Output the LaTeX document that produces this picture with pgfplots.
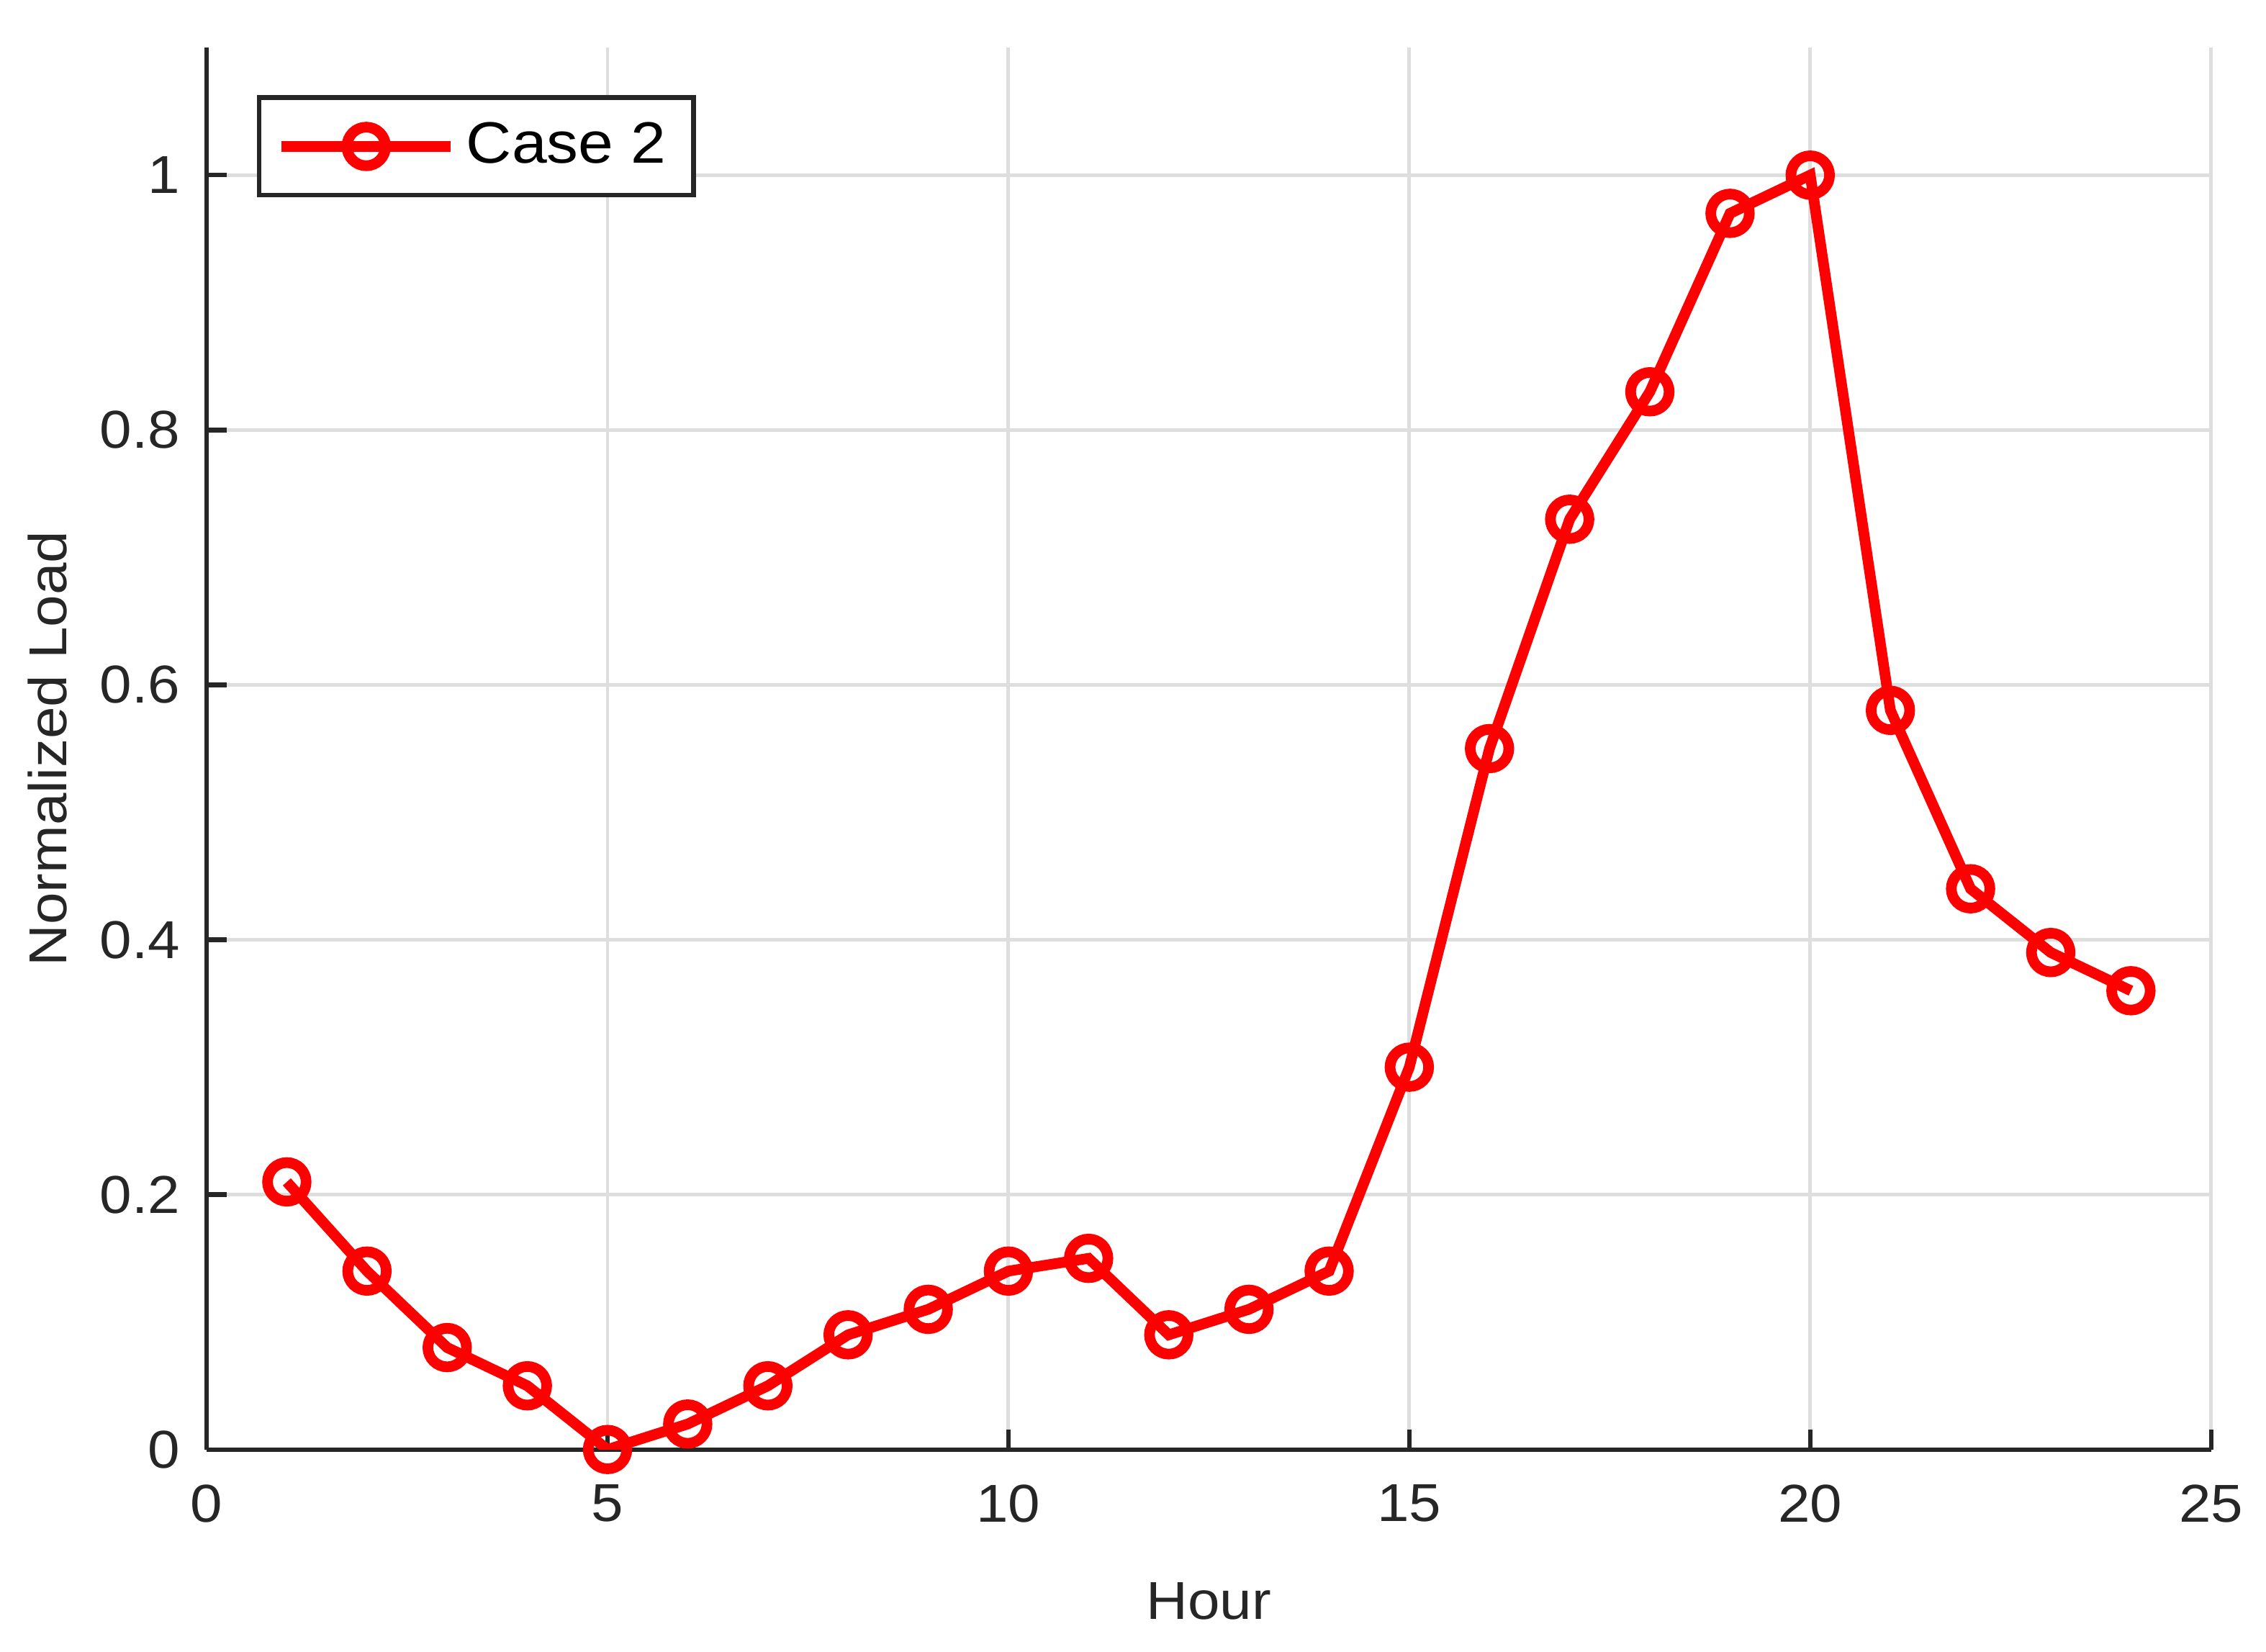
\documentclass[border=0pt]{standalone}
\usepackage{pgfplots}
\pgfplotsset{compat=1.18}
\usepackage{fontspec}
\setmainfont[FakeStretch=1.08]{Liberation Sans}
\definecolor{axgray}{RGB}{38,38,38}
\definecolor{gridgray}{RGB}{222,222,222}
\begin{document}
\begin{tikzpicture}
\begin{axis}[
  scale only axis,
  width=138.7mm, height=97.0mm,
  xmin=0, xmax=25, ymin=0, ymax=1.1,
  xtick={0,5,10,15,20,25},
  ytick={0,0.2,0.4,0.6,0.8,1},
  axis x line*=bottom, axis y line*=left,
  xtick pos=bottom, ytick pos=left,
  tick align=inside,
  axis line style={-, axgray, line width=0.9pt},
  tick style={axgray, line width=0.9pt},
  major tick length=1.4mm,
  grid=major,
  major grid style={gridgray, line width=0.7pt},
  /pgf/number format/assume math mode=true,
  ticklabel style={font=\fontsize{10.5}{12}\selectfont, text=axgray},
  yticklabel style={xshift=-0.6mm},
  xticklabel style={yshift=-1.2mm},
  xlabel={Hour}, ylabel={Normalized Load},
  label style={font=\fontsize{10.5}{12}\selectfont, text=axgray},
  xlabel style={at={(axis description cs:0.5,-0.108)}, anchor=center},
  ylabel style={at={(axis description cs:-0.0793,0.5)}, anchor=center},
  legend style={at={(0.025,0.966)}, anchor=north west, draw=axgray, line width=0.9pt,
    font=\fontsize{11.5}{13}\selectfont, inner xsep=1.2mm, inner ysep=1.0mm, fill=white},
  legend cell align=left,
  legend image code/.code={%
    \draw[mark repeat=2, mark phase=2, #1] plot coordinates {(0mm,0mm) (5.85mm,0mm) (11.7mm,0mm)};},
]
\addplot[red, line width=2.1pt, mark=o, mark size=3.8pt, mark options={line width=2.1pt}]
coordinates {
(1,0.21) (2,0.14) (3,0.08) (4,0.05) (5,0.00) (6,0.02) (7,0.05) (8,0.09)
(9,0.11) (10,0.14) (11,0.15) (12,0.09) (13,0.11) (14,0.14) (15,0.30) (16,0.55)
(17,0.73) (18,0.83) (19,0.97) (20,1.00) (21,0.58) (22,0.44) (23,0.39) (24,0.36)
};
\addlegendentry{Case 2}
\end{axis}
\path ([shift={(-14.3mm,-14.0mm)}]current axis.south west) rectangle ([shift={(3.8mm,3.3mm)}]current axis.north east);
\end{tikzpicture}
\end{document}
